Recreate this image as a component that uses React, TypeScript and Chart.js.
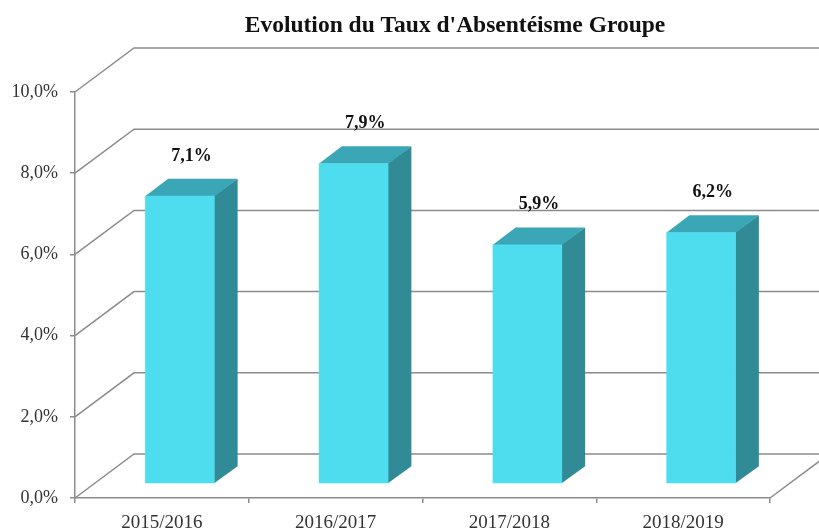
import React, { useEffect, useRef } from 'react';
import { Chart, registerables } from 'chart.js';

Chart.register(...registerables);

const chartTitle = "Evolution du Taux d'Absentéisme Groupe";
const categories = ['2015/2016', '2016/2017', '2017/2018', '2018/2019'];
const values = [7.1, 7.9, 5.9, 6.2];
const yMin = 0;
const yMax = 10;
const yStep = 2;

const FRONT = '#4edcef';
const TOP = '#3ba7b6';
const SIDE = '#308b96';
const GRID = '#8c8c8c';
const TEXT = '#333333';
const SERIF = "'Liberation Serif', 'DejaVu Serif', serif";

const WALL_DX = 59;
const WALL_DY = -44;
const SHIFT_X = 18;
const SHIFT_Y = -14;
const BAR_DX = 23;
const BAR_DY = -17;

const fmt = (v: number) => v.toFixed(1).replace('.', ',') + '%';

const threeD = {
  id: 'threeD',
  beforeDatasetsDraw(chart: any) {
    const { ctx, chartArea, scales } = chart;
    const y = scales.y;
    ctx.save();
    ctx.strokeStyle = GRID;
    ctx.lineWidth = 1.5;
    y.ticks.forEach((t: any) => {
      const py = y.getPixelForValue(t.value);
      ctx.beginPath();
      ctx.moveTo(chartArea.left, py);
      ctx.lineTo(chartArea.left + WALL_DX, py + WALL_DY);
      ctx.lineTo(chartArea.right + WALL_DX + 20, py + WALL_DY);
      ctx.stroke();
    });
    ctx.beginPath();
    ctx.moveTo(chartArea.right, chartArea.bottom);
    ctx.lineTo(chartArea.right + WALL_DX, chartArea.bottom + WALL_DY);
    ctx.stroke();
    ctx.restore();
  },
  beforeDatasetDraw(chart: any, args: any) {
    const ctx = chart.ctx;
    ctx.save();
    ctx.translate(SHIFT_X, SHIFT_Y);
    args.meta.data.forEach((el: any) => {
      const { x, y, base, width } = el.getProps(['x', 'y', 'base', 'width'], true);
      const l = x - width / 2;
      const r = x + width / 2;
      ctx.fillStyle = SIDE;
      ctx.beginPath();
      ctx.moveTo(r - 0.5, y);
      ctx.lineTo(r + BAR_DX, y + BAR_DY);
      ctx.lineTo(r + BAR_DX, base + BAR_DY);
      ctx.lineTo(r - 0.5, base);
      ctx.closePath();
      ctx.fill();
      ctx.fillStyle = TOP;
      ctx.beginPath();
      ctx.moveTo(l, y + 0.5);
      ctx.lineTo(l + BAR_DX, y + BAR_DY);
      ctx.lineTo(r + BAR_DX, y + BAR_DY);
      ctx.lineTo(r, y + 0.5);
      ctx.closePath();
      ctx.fill();
    });
  },
  afterDatasetDraw(chart: any) {
    chart.ctx.restore();
  },
  afterDatasetsDraw(chart: any) {
    const ctx = chart.ctx;
    const meta = chart.getDatasetMeta(0);
    ctx.save();
    ctx.fillStyle = '#111';
    ctx.font = `bold 18px ${SERIF}`;
    ctx.textAlign = 'center';
    ctx.textBaseline = 'alphabetic';
    meta.data.forEach((el: any, i: number) => {
      const { x, y } = el.getProps(['x', 'y'], true);
      ctx.fillText(fmt(values[i]), x + SHIFT_X + BAR_DX / 2, y + SHIFT_Y + BAR_DY - 18);
    });
    ctx.font = `bold 23.5px ${SERIF}`;
    ctx.textBaseline = 'middle';
    ctx.fillText(chartTitle, 455, 26);
    ctx.restore();
  },
};

export default function App() {
  const ref = useRef<HTMLCanvasElement>(null);
  useEffect(() => {
    if (!ref.current) return;
    const chart = new Chart(ref.current, {
      type: 'bar',
      data: {
        labels: categories,
        datasets: [
          {
            data: values,
            backgroundColor: FRONT,
            borderWidth: 0,
            barPercentage: 0.4,
            categoryPercentage: 1,
            clip: false as any,
          },
        ],
      },
      options: {
        animation: false,
        responsive: false,
        devicePixelRatio: 1,
        layout: { padding: { left: 0, right: 49, top: 92, bottom: 0 } },
        plugins: {
          legend: { display: false },
          title: { display: false },
          tooltip: { enabled: false },
        },
        scales: {
          x: {
            afterFit: (s: any) => {
              s.height = 31;
            },
            grid: { drawOnChartArea: false, tickLength: 5, color: GRID, lineWidth: 1.5 },
            border: { color: GRID, width: 1.5 },
            ticks: { color: TEXT, font: { family: SERIF, size: 19 }, padding: 9 },
          },
          y: {
            min: yMin,
            max: yMax,
            afterFit: (s: any) => {
              s.width = 75;
            },
            grid: { drawOnChartArea: false, tickLength: 5, color: GRID, lineWidth: 1.5 },
            border: { color: GRID, width: 1.5 },
            ticks: {
              stepSize: yStep,
              color: TEXT,
              font: { family: SERIF, size: 18 },
              padding: 12,
              callback: (v: any) => fmt(Number(v)),
            },
          },
        },
      },
      plugins: [threeD],
    });
    return () => chart.destroy();
  }, []);
  return (
    <div style={{ position: 'fixed', left: 0, top: 0, width: 819, height: 529, background: '#fff' }}>
      <canvas ref={ref} width={819} height={529} style={{ display: 'block' }} />
    </div>
  );
}
